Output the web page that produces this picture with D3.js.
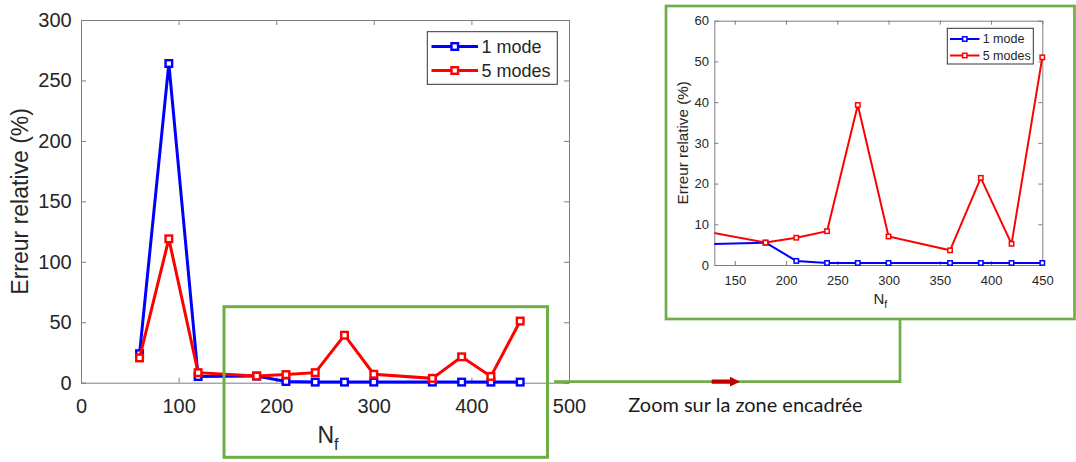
<!DOCTYPE html>
<html>
<head>
<meta charset="utf-8">
<script src="https://cdn.jsdelivr.net/npm/d3@7/dist/d3.min.js"></script>
<style>
  html, body { margin: 0; padding: 0; background: #fff; }
  svg { display: block; }
  text { font-family: "Liberation Sans", Arial, Helvetica, sans-serif; fill: #262626; }
</style>
</head>
<body>
<svg id="chart" width="1076" height="462"></svg>
<script>
// ---------------- data ----------------
const nf = [60, 90, 120, 180, 210, 240, 270, 300, 360, 390, 420, 450];
const oneMode = [24, 264, 5.1, 5.5, 1.0, 0.5, 0.5, 0.5, 0.5, 0.5, 0.5, 0.5];
const fiveModes = [20.5, 119, 8.3, 5.5, 6.7, 8.3, 39.3, 7.0, 3.6, 21.4, 5.2, 51.0];
const seriesNames = ["1 mode", "5 modes"];
const seriesColors = ["#0000ff", "#ff0000"];
const mainXTicks = [0, 100, 200, 300, 400, 500];
const mainYTicks = [0, 50, 100, 150, 200, 250, 300];
const insetXTicks = [150, 200, 250, 300, 350, 400, 450];
const insetYTicks = [0, 10, 20, 30, 40, 50, 60];
const yLabel = "Erreur relative (%)";
const xLabelMain = "N", xLabelSub = "f";
const noteText = "Zoom sur la zone encadrée";

const series = [oneMode, fiveModes].map((vals, i) => ({
  name: seriesNames[i], color: seriesColors[i],
  points: nf.map((x, j) => ({ x, y: vals[j] }))
}));

const svg = d3.select("#chart");
const green = "#70ad47";
const axisGray = "#7f7f7f";

function drawPanel(cfg) {
  const g = svg.append("g");
  const x = d3.scaleLinear().domain(cfg.xDomain).range([cfg.left, cfg.right]);
  const y = d3.scaleLinear().domain(cfg.yDomain).range([cfg.bottom, cfg.top]);

  const clipId = "clip" + cfg.id;
  svg.append("clipPath").attr("id", clipId).append("rect")
    .attr("x", cfg.left).attr("y", cfg.top - 10)
    .attr("width", cfg.right - cfg.left + 10).attr("height", cfg.bottom - cfg.top + 20);

  // axes
  const ax = (axis, tr) => g.append("g").attr("transform", tr).call(axis)
    .call(s => s.selectAll("path.domain").attr("stroke", axisGray).attr("stroke-width", 1))
    .call(s => s.selectAll(".tick line").attr("stroke", axisGray))
    .call(s => s.selectAll(".tick text").attr("fill", "#262626")
      .style("font-family", '"Liberation Sans", Arial, sans-serif').style("font-size", cfg.tickFs + "px"));

  ax(d3.axisBottom(x).tickValues(cfg.xTicks).tickSizeInner(-cfg.tickLen).tickSizeOuter(0)
      .tickPadding(cfg.xPad).tickFormat(d3.format("d")), `translate(0,${cfg.bottom})`);
  ax(d3.axisTop(x).tickValues(cfg.xTicks).tickSizeInner(-cfg.tickLen).tickSizeOuter(0)
      .tickFormat(""), `translate(0,${cfg.top})`);
  ax(d3.axisLeft(y).tickValues(cfg.yTicks).tickSizeInner(-cfg.tickLen).tickSizeOuter(0)
      .tickPadding(cfg.yPad).tickFormat(d3.format("d")), `translate(${cfg.left},0)`);
  ax(d3.axisRight(y).tickValues(cfg.yTicks).tickSizeInner(-cfg.tickLen).tickSizeOuter(0)
      .tickFormat(""), `translate(${cfg.right},0)`);

  // series
  const line = d3.line().x(d => x(d.x)).y(d => y(d.y));
  const plot = g.append("g").attr("clip-path", `url(#${clipId})`);
  series.forEach(s => {
    plot.append("path").datum(s.points)
      .attr("fill", "none").attr("stroke", s.color)
      .attr("stroke-width", cfg.lineW).attr("stroke-linejoin", "miter").attr("d", line);
    plot.selectAll(null).data(s.points.filter(p => p.x >= cfg.xDomain[0] && p.x <= cfg.xDomain[1]))
      .enter().append("rect")
      .attr("x", d => x(d.x) - cfg.mk / 2).attr("y", d => y(d.y) - cfg.mk / 2)
      .attr("width", cfg.mk).attr("height", cfg.mk)
      .attr("fill", "#fff").attr("stroke", s.color).attr("stroke-width", cfg.mkW);
  });

  // axis labels
  const xl = g.append("text").attr("x", (cfg.left + cfg.right) / 2 + cfg.nShift)
    .attr("y", cfg.xLabelY).attr("text-anchor", "middle")
    .style("font-size", cfg.labelFs + "px");
  xl.append("tspan").text(xLabelMain);
  xl.append("tspan").attr("dy", cfg.subDy).style("font-size", cfg.subFs + "px").text(xLabelSub);

  g.append("text")
    .attr("transform", `translate(${cfg.yLabelX},${(cfg.top + cfg.bottom) / 2}) rotate(-90)`)
    .attr("text-anchor", "middle").style("font-size", cfg.yLabelFs + "px").text(yLabel);

  // legend
  const L = cfg.legend;
  g.append("rect").attr("x", L.x0).attr("y", L.y0).attr("width", L.x1 - L.x0).attr("height", L.y1 - L.y0)
    .attr("fill", "#fff").attr("stroke", "#333").attr("stroke-width", 1);
  series.forEach((s, i) => {
    const ly = L.rows[i];
    g.append("line").attr("x1", L.lx0).attr("x2", L.lx1).attr("y1", ly).attr("y2", ly)
      .attr("stroke", s.color).attr("stroke-width", cfg.lineW);
    const mx = (L.lx0 + L.lx1) / 2;
    g.append("rect").attr("x", mx - cfg.mk / 2).attr("y", ly - cfg.mk / 2)
      .attr("width", cfg.mk).attr("height", cfg.mk).attr("fill", "#fff")
      .attr("stroke", s.color).attr("stroke-width", cfg.mkW);
    g.append("text").attr("x", L.tx).attr("y", ly).attr("dy", "0.35em")
      .style("font-size", L.fs + "px").text(s.name);
  });
  return { x, y };
}

// main chart
drawPanel({
  id: "main", xDomain: [0, 500], yDomain: [0, 300],
  left: 81, right: 569, top: 20, bottom: 382.7,
  xTicks: mainXTicks, yTicks: mainYTicks, tickLen: 5, tickFs: 20, xPad: 15.8, yPad: 9.3,
  lineW: 3, mk: 6.6, mkW: 2.4,
  labelFs: 23, subFs: 16, subDy: 7, nShift: 3, xLabelY: 443,
  yLabelX: 28, yLabelFs: 23,
  legend: { x0: 427.3, x1: 557.3, y0: 31.7, y1: 84.3, rows: [46.5, 70.5], lx0: 431.5, lx1: 478, tx: 481.5, fs: 18 }
});

// inset chart
drawPanel({
  id: "inset", xDomain: [130, 450], yDomain: [0, 60],
  left: 714.3, right: 1042.3, top: 20.7, bottom: 265,
  xTicks: insetXTicks, yTicks: insetYTicks, tickLen: 4, tickFs: 13, xPad: 10.8, yPad: 5.3,
  lineW: 2, mk: 4.4, mkW: 1.5,
  labelFs: 15, subFs: 10.5, subDy: 4.5, nShift: 2, xLabelY: 303.5,
  yLabelX: 687.5, yLabelFs: 15.2,
  legend: { x0: 947.3, x1: 1033.3, y0: 28.3, y1: 64, rows: [39, 55.5], lx0: 950, lx1: 979.5, tx: 982.7, fs: 12.5 }
});

// green zoom rectangle in the main chart
svg.append("rect").attr("x", 224).attr("y", 306.7).attr("width", 547.5 - 224).attr("height", 457.3 - 306.7)
  .attr("fill", "none").attr("stroke", green).attr("stroke-width", 3);

// green frame around inset
svg.append("rect").attr("x", 666).attr("y", 6).attr("width", 1074.5 - 666).attr("height", 319 - 6)
  .attr("fill", "none").attr("stroke", green).attr("stroke-width", 2.7);

// connector line
svg.append("path").attr("d", "M554,381.7 L900,381.7 L900,319")
  .attr("fill", "none").attr("stroke", green).attr("stroke-width", 2.7);

// red arrow
svg.append("path").attr("d", "M711.7,379.6 L730,379.6 L730,376.8 L740,381.7 L730,386.6 L730,383.8 L711.7,383.8 Z")
  .attr("fill", "#c00000");

// note text
const note = svg.append("text").attr("x", 628.3).attr("y", 412.3)
  .style("font-family", "Lato, 'Open Sans', sans-serif").style("font-size", "18px")
  .style("fill", "#1a1a1a").text(noteText);
const w = note.node().getComputedTextLength();
note.style("font-size", (18 * 234.4 / w) + "px");
</script>
</body>
</html>
